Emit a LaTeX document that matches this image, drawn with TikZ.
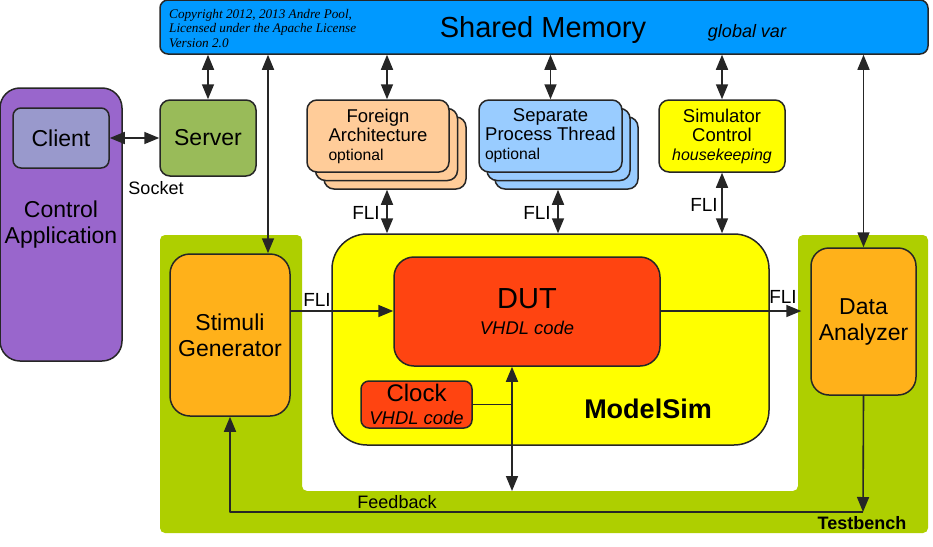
\documentclass[tikz,border=0pt]{standalone}
\usepackage{fontspec}
\setmainfont{Liberation Sans}
\newfontfamily\copyfont{Liberation Serif}
\usetikzlibrary{arrows.meta}
\definecolor{smblue}{RGB}{0,153,255}
\definecolor{appviolet}{RGB}{153,102,204}
\definecolor{clientgray}{RGB}{153,153,204}
\definecolor{servergreen}{RGB}{153,187,89}
\definecolor{foreignpeach}{RGB}{255,204,153}
\definecolor{threadblue}{RGB}{153,204,255}
\definecolor{simyellow}{RGB}{255,255,0}
\definecolor{tbgreen}{RGB}{174,207,0}
\definecolor{genorange}{RGB}{255,177,26}
\definecolor{dutred}{RGB}{255,68,17}

\begin{document}
\begin{tikzpicture}[x=1pt,y=-1pt,line join=round]
        \tikzstyle{block}=[draw=black!85,line width=1.5pt,rounded corners=10pt,inner sep=0pt,align=center,font=\fontsize{23}{26}\selectfont]
        \tikzstyle{smallblock}=[block,font=\fontsize{18.5}{19}\selectfont]
        \tikzstyle{lbl}=[inner sep=0pt,font=\fontsize{19}{22}\selectfont]
        \tikzstyle{plain}=[draw=black!85,line width=1.6pt]
        \tikzstyle{link}=[plain,-{Triangle[length=15pt,width=12pt]}]
        \tikzstyle{both}=[plain,{Triangle[length=15pt,width=12pt]}-{Triangle[length=15pt,width=12pt]}]
        \useasboundingbox (0,0) rectangle (933,546);
        % testbench
        \fill[tbgreen,rounded corners=5pt] (160,235) -- (302,235) -- (302,491) -- (798,491) -- (798,235) -- (928,235) -- (928,533) -- (160,533) -- cycle;
        % shared memory
        \node [block,fill=smblue,rounded corners=8pt,minimum width=768pt,minimum height=54pt] (sm) at (544,27) {};
        \node [inner sep=0pt,anchor=base,font=\fontsize{29}{32}\selectfont] (smtext) at (543,37) {Shared Memory};
        \node [inner sep=0pt,anchor=base,font=\fontsize{18}{20}\selectfont\itshape] (smvar) at (747,37) {global var};
        \node [inner sep=0pt,anchor=north west,align=left,font=\copyfont\itshape\fontsize{13.2}{14.6}\selectfont] (copy) at (169,9) {Copyright 2012, 2013 Andre Pool,\\Licensed under the Apache License\\Version 2.0};
        % control application
        \node [block,fill=appviolet,rounded corners=20pt,minimum width=122pt,minimum height=273pt] (app) at (61,224.5) {Control\\Application};
        \node [block,fill=clientgray,rounded corners=8pt,minimum width=96pt,minimum height=60pt] (client) at (61,138) {Client};
        \node [block,fill=servergreen,minimum width=96pt,minimum height=76pt] (server) at (208,138) {Server};
        \node [lbl,font=\fontsize{18}{20}\selectfont] (socket) at (156,188) {Socket};
        % foreign architecture
        \node [smallblock,fill=foreignpeach,minimum width=142pt,minimum height=72pt] (fa3) at (395,153) {};
        \node [smallblock,fill=foreignpeach,minimum width=142pt,minimum height=72pt] (fa2) at (386.5,144.5) {};
        \node [smallblock,fill=foreignpeach,minimum width=142pt,minimum height=72pt] (fa1) at (378,136) {Foreign\\Architecture\\\makebox[99pt][l]{\fontsize{15.7}{19}\selectfont optional}};
        % separate process thread
        \node [smallblock,fill=threadblue,minimum width=143pt,minimum height=72pt] (sp3) at (566.5,153) {};
        \node [smallblock,fill=threadblue,minimum width=143pt,minimum height=72pt] (sp2) at (558.5,144.5) {};
        \node [smallblock,fill=threadblue,minimum width=143pt,minimum height=72pt] (sp1) at (550.5,136) {Separate\\Process Thread\\\makebox[131pt][l]{\fontsize{15.7}{19}\selectfont optional}};
        % simulator control
        \node [smallblock,fill=simyellow,minimum width=126pt,minimum height=72pt] (sc) at (722,136) {Simulator\\Control\\{\fontsize{16}{19}\selectfont\itshape housekeeping}};
        % modelsim
        \node [block,fill=simyellow,rounded corners=35pt,minimum width=437pt,minimum height=211pt] (ms) at (550.5,339.5) {};
        \node [inner sep=0pt,anchor=base,font=\fontsize{27}{30}\selectfont\bfseries] (mstext) at (648,418) {ModelSim};
        \node [block,fill=dutred,rounded corners=20pt,minimum width=266pt,minimum height=109pt,font=\fontsize{18.4}{26}\selectfont] (dut) at (527,311.5) {{\fontsize{29}{26}\selectfont DUT}\\\itshape VHDL code};
        \node [block,fill=dutred,rounded corners=8pt,minimum width=111pt,minimum height=47pt,font=\fontsize{18.4}{23}\selectfont] (clk) at (416.5,404.5) {{\fontsize{24}{23}\selectfont Clock}\\\itshape VHDL code};
        % testbench blocks
        \node [block,fill=genorange,rounded corners=20pt,minimum width=120pt,minimum height=162pt] (sg) at (230,335) {Stimuli\\Generator};
        \node [block,fill=genorange,rounded corners=18pt,minimum width=105pt,minimum height=147pt] (da) at (863.5,321.5) {Data\\Analyzer};
        \node [inner sep=0pt,font=\fontsize{18}{20}\selectfont\bfseries] (tbtext) at (862,523) {Testbench};
        \node [lbl,font=\fontsize{18}{20}\selectfont] (fbtext) at (397,502) {Feedback};
        % fli labels
        \node [lbl] (fli1) at (366,213) {FLI};
        \node [lbl] (fli2) at (537,213) {FLI};
        \node [lbl] (fli3) at (704,205) {FLI};
        \node [lbl] (fli4) at (317,300) {FLI};
        \node [lbl] (fli5) at (783,297) {FLI};
        % connectors
        \coordinate (sgx) at (268,0);
        \coordinate (fax) at (387,0);
        \coordinate (spx) at (558,0);
        \coordinate (fly) at (0,311);
        \coordinate (fbt) at (512,491);
        \coordinate (fb) at (863,512);
        \draw[both] (client.east) -- (server.west);
        \draw[both] (sm.south -| server.north) -- (server.north);
        \draw[both] (sm.south -| sgx) -- (sg.north -| sgx);
        \draw[both] (sm.south -| fax) -- (fa1.north -| fax);
        \draw[both] (fa3.south -| fax) -- (ms.north -| fax);
        \draw[both] (sm.south -| sp1.north) -- (sp1.north);
        \draw[both] (sp3.south -| spx) -- (ms.north -| spx);
        \draw[both] (sm.south -| sc.north) -- (sc.north);
        \draw[both] (sc.south) -- (ms.north -| sc.south);
        \draw[both] (sm.south -| da.north) -- (da.north);
        \draw[link] (sg.east |- fly) -- (dut.west |- fly);
        \draw[link,shorten >=9pt] (dut.east |- fly) -- (da.west |- fly);
        \draw[plain] (clk.east) -- (clk.east -| fbt);
        \draw[both] (dut.south -| fbt) -- (fbt);
        \draw[link] (da.south) -- (fb);
        \draw[link] (fb) -| (sg.south);
\end{tikzpicture}
\end{document}
